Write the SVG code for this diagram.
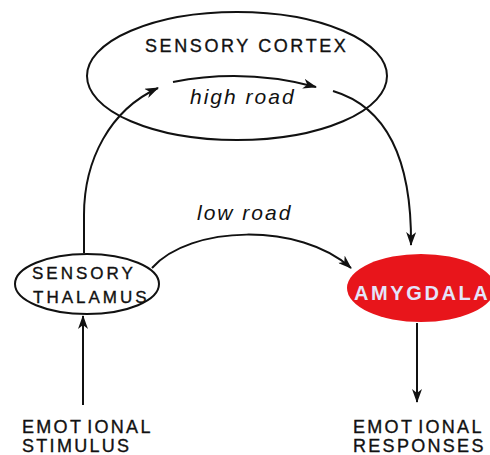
<svg xmlns="http://www.w3.org/2000/svg" width="490" height="455" viewBox="0 0 490 455">
  <style>
    .outline { fill: none; stroke: #111; stroke-width: 2; }
    .link { fill: none; stroke: #111; stroke-width: 2; marker-end: url(#head); }
    .label { font-family: "Liberation Sans", Arial, sans-serif; fill: #111; stroke: #111; stroke-width: 0.35; }
    .caps { font-size: 17px; letter-spacing: 3px; }
    .foot { font-size: 18px; letter-spacing: 2.3px; }
    .road { font-size: 21px; font-style: italic; letter-spacing: 2px; stroke: none; }
  </style>
  <defs>
    <marker id="head" viewBox="0 0 14 10" refX="13" refY="5" markerWidth="14" markerHeight="10" markerUnits="userSpaceOnUse" orient="auto">
      <path d="M0,0 L14,5 L0,10 L4,5 Z" fill="#111"/>
    </marker>
  </defs>
  <rect width="490" height="455" fill="#fff"/>

  <g id="sensory-cortex">
    <ellipse class="outline" cx="237" cy="76" rx="150" ry="64"/>
    <text class="label" x="145" y="52" font-size="18" letter-spacing="2.6">SENSORY CORTEX</text>
  </g>

  <g id="sensory-thalamus">
    <ellipse class="outline" cx="87" cy="284" rx="72" ry="30"/>
    <text class="label caps" x="32" y="279">SENSORY</text>
    <text class="label caps" x="33" y="303">THALAMUS</text>
  </g>

  <g id="amygdala">
    <ellipse cx="421" cy="288" rx="74" ry="34" fill="#e8151b"/>
    <text x="354" y="300" font-family="'Liberation Sans', Arial, sans-serif" font-weight="bold" font-size="20" letter-spacing="2.6" fill="#e4e4fa">AMYGDALA</text>
  </g>

  <g id="emotional-stimulus">
    <text class="label foot" x="22" y="433">EMOT<tspan dx="4">IONAL</tspan></text>
    <text class="label foot" x="22" y="452">STIMULUS</text>
  </g>

  <g id="emotional-responses">
    <text class="label foot" x="353" y="433">EMOT<tspan dx="4">IONAL</tspan></text>
    <text class="label foot" x="353" y="452">RESPONSES</text>
  </g>

  <g id="connectors">
    <path class="link" d="M84,253 L84,215 C84,160 110,110 158,88"/>
    <path class="link" d="M173,82 Q245,68 316,87"/>
    <text class="label road" x="190" y="104">high road</text>
    <path class="link" d="M333,91 C380,105 412,150 411,245"/>
    <path class="link" d="M152,268 C190,225 300,222 351,268"/>
    <text class="label road" x="197" y="220">low road</text>
    <path class="link" d="M83,405 L83,316"/>
    <path class="link" d="M417,323 L417,402"/>
  </g>
</svg>
